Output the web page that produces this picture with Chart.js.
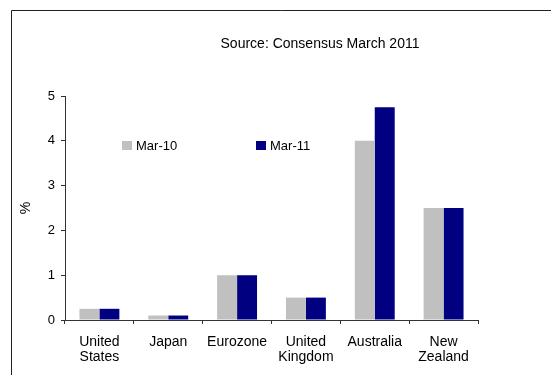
<!DOCTYPE html>
<html>
<head>
<meta charset="utf-8">
<script src="https://cdn.jsdelivr.net/npm/chart.js@4"></script>
<style>
  html, body { margin: 0; padding: 0; background: #fff; }
  #wrap { width: 551px; height: 375px; position: relative; }
</style>
</head>
<body>
<div id="wrap"><canvas id="growthChart"></canvas></div>
<script>
const countries = [['United', 'States'], 'Japan', 'Eurozone', ['United', 'Kingdom'], 'Australia', ['New', 'Zealand']];
const mar10 = [0.25, 0.1, 1.0, 0.5, 4.0, 2.5];
const mar11 = [0.25, 0.1, 1.0, 0.5, 4.75, 2.5];
const seriesNames = ['Mar-10', 'Mar-11'];
const seriesColors = ['#C0C0C0', '#000080'];
const sourceNote = 'Source: Consensus March 2011';

const FONT = 'Liberation Sans, Arial, sans-serif';

// frame, source note and the in-plot legend
const decorations = {
  id: 'decorations',
  beforeDraw(chart) {
    const ctx = chart.ctx;
    ctx.save();
    ctx.strokeStyle = '#222';
    ctx.lineWidth = 1;
    ctx.beginPath();
    ctx.moveTo(11.5, chart.height);
    ctx.lineTo(11.5, 10.5);
    ctx.lineTo(chart.width, 10.5);
    ctx.stroke();
    ctx.restore();
  },
  afterDraw(chart) {
    const ctx = chart.ctx;
    const area = chart.chartArea;
    ctx.save();
    ctx.fillStyle = '#000';
    ctx.font = '14px ' + FONT;
    ctx.textAlign = 'center';
    ctx.textBaseline = 'middle';
    ctx.fillText(sourceNote, 320, 44);

    const legendX = [area.left + 57, area.left + 191];
    const legendY = area.top + 49;
    ctx.font = '13px ' + FONT;
    ctx.textAlign = 'left';
    seriesNames.forEach((name, i) => {
      ctx.fillStyle = seriesColors[i];
      ctx.fillRect(legendX[i], legendY - 4, 10, 9);
      ctx.fillStyle = '#000';
      ctx.fillText(name, legendX[i] + 14, legendY + 1);
    });
    ctx.restore();
  },
};

new Chart(document.getElementById('growthChart'), {
  type: 'bar',
  data: {
    labels: countries,
    datasets: seriesNames.map((name, i) => ({
      label: name,
      data: i === 0 ? mar10 : mar11,
      backgroundColor: seriesColors[i],
      borderWidth: 0,
      categoryPercentage: 0.58,
      barPercentage: 1.0,
    })),
  },
  options: {
    responsive: true,
    maintainAspectRatio: false,
    animation: false,
    layout: {
      padding: { left: 0, top: 96, right: 73, bottom: 0 },
    },
    plugins: {
      legend: { display: false },
      tooltip: { enabled: false },
    },
    scales: {
      x: {
        afterFit: (scale) => { scale.height = 55; },
        grid: {
          display: true,
          drawOnChartArea: false,
          drawTicks: true,
          tickLength: 4,
          color: '#333',
        },
        border: { color: '#333' },
        ticks: {
          color: '#000',
          padding: 10,
          font: { family: FONT, size: 14, lineHeight: 1.1 },
          maxRotation: 0,
          autoSkip: false,
        },
      },
      y: {
        min: 0,
        max: 5,
        afterFit: (scale) => { scale.width = 65; },
        grid: {
          display: true,
          drawOnChartArea: false,
          drawTicks: true,
          tickLength: 4,
          color: '#333',
        },
        border: { color: '#333' },
        ticks: {
          stepSize: 1,
          color: '#000',
          padding: 6,
          font: { family: FONT, size: 13 },
        },
        title: {
          display: true,
          text: '%',
          color: '#000',
          font: { family: FONT, size: 14 },
          padding: { top: 18, bottom: 0 },
        },
      },
    },
  },
  plugins: [decorations],
});
</script>
</body>
</html>
